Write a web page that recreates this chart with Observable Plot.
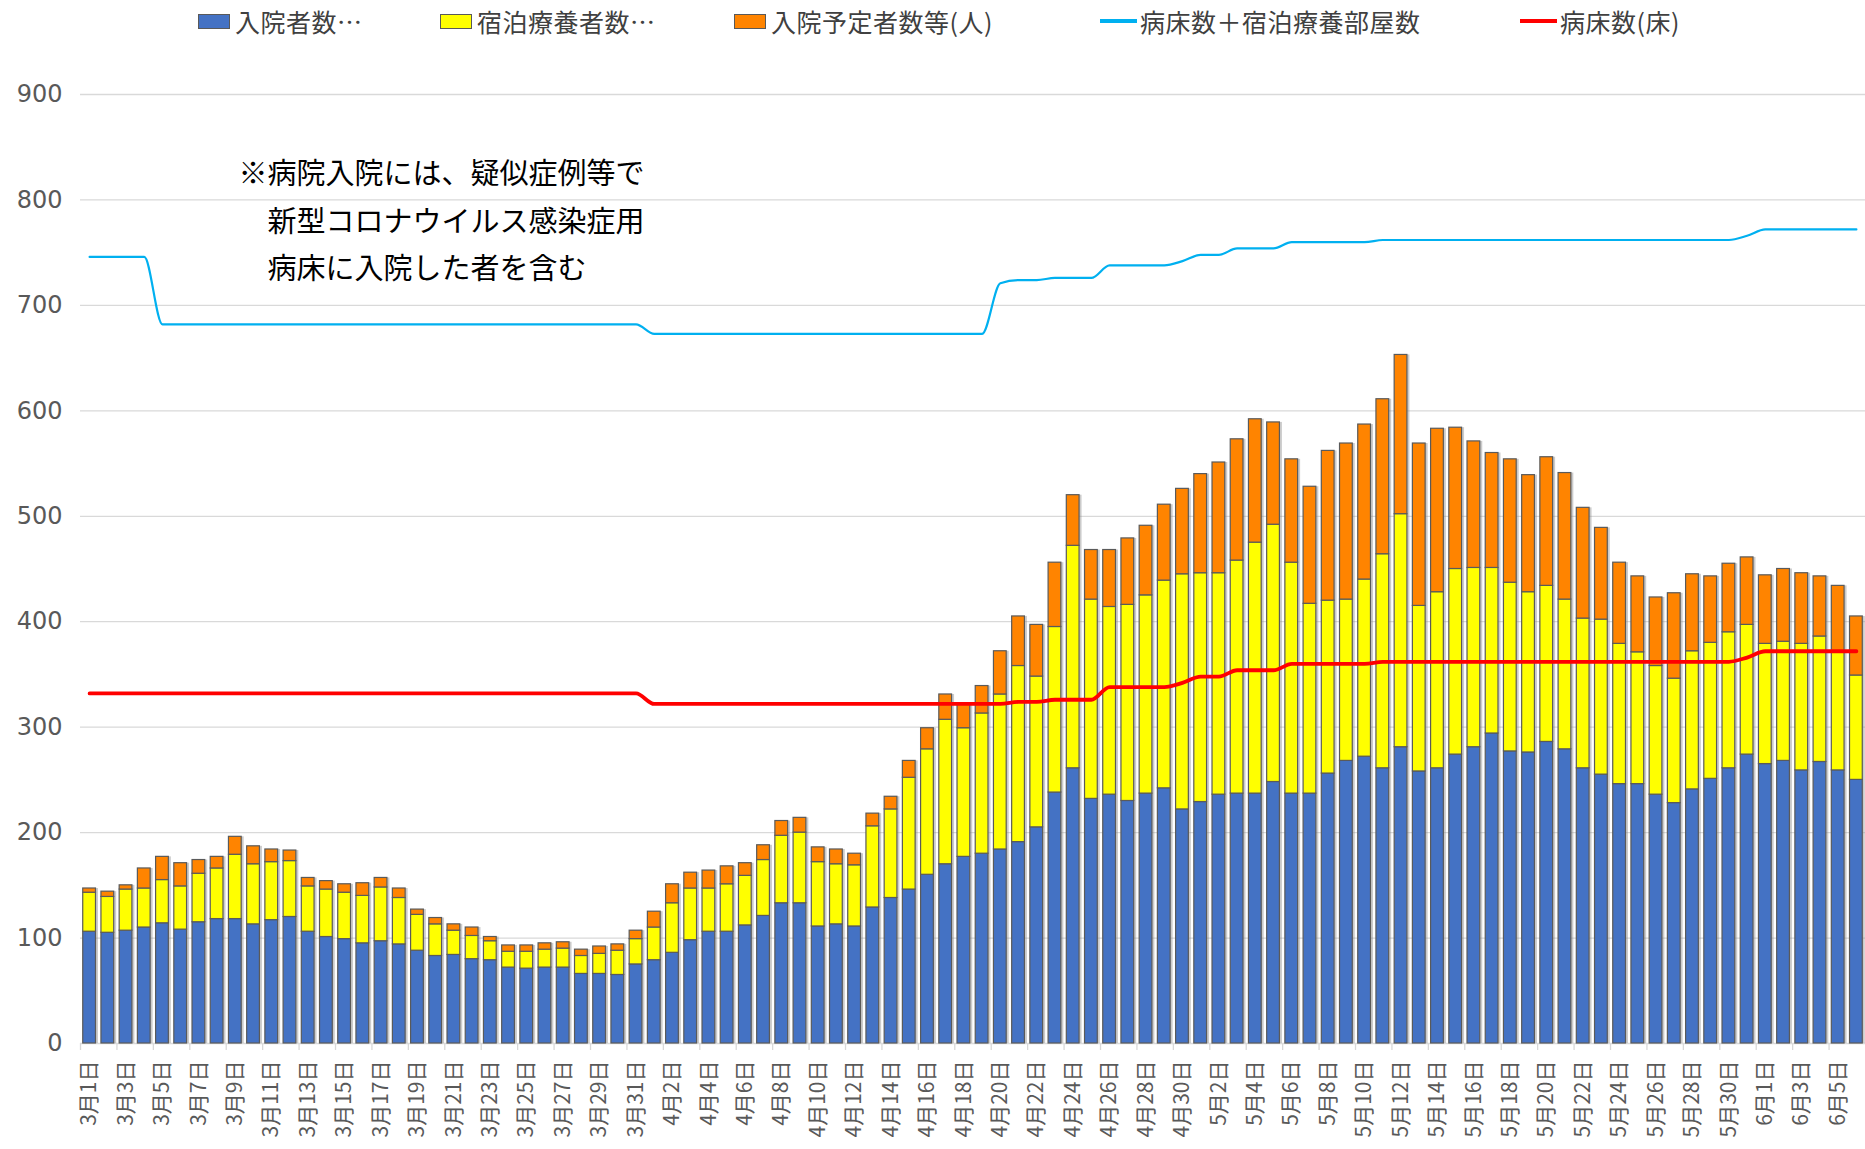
<!DOCTYPE html>
<html><head><meta charset="utf-8">
<script src="https://cdn.jsdelivr.net/npm/d3@7"></script>
<script src="https://cdn.jsdelivr.net/npm/@observablehq/plot@0.6"></script>
<style>
body{margin:0;background:#fff;font-family:'Noto Sans CJK JP',sans-serif;overflow:hidden;}
#legend{position:relative;height:45px;width:1865px;font-size:25px;color:#404040;letter-spacing:0.5px;}
.item{position:absolute;top:0;height:42px;display:flex;align-items:center;white-space:nowrap;}
.sw{display:inline-block;width:32px;height:15px;border:1px solid #595959;box-sizing:border-box;margin-right:5px;}
.ln{display:inline-block;width:37px;height:4px;margin-right:3px;}
</style></head><body>
<div id="legend"></div>
<div id="chart"></div>
<script>
const dates = ["3月1日","3月2日","3月3日","3月4日","3月5日","3月6日","3月7日","3月8日","3月9日","3月10日",
"3月11日","3月12日","3月13日","3月14日","3月15日","3月16日","3月17日","3月18日","3月19日","3月20日",
"3月21日","3月22日","3月23日","3月24日","3月25日","3月26日","3月27日","3月28日","3月29日","3月30日","3月31日",
"4月1日","4月2日","4月3日","4月4日","4月5日","4月6日","4月7日","4月8日","4月9日","4月10日",
"4月11日","4月12日","4月13日","4月14日","4月15日","4月16日","4月17日","4月18日","4月19日","4月20日",
"4月21日","4月22日","4月23日","4月24日","4月25日","4月26日","4月27日","4月28日","4月29日","4月30日",
"5月1日","5月2日","5月3日","5月4日","5月5日","5月6日","5月7日","5月8日","5月9日","5月10日",
"5月11日","5月12日","5月13日","5月14日","5月15日","5月16日","5月17日","5月18日","5月19日","5月20日",
"5月21日","5月22日","5月23日","5月24日","5月25日","5月26日","5月27日","5月28日","5月29日","5月30日","5月31日",
"6月1日","6月2日","6月3日","6月4日","6月5日","6月6日"];

// 入院者数
const inpatients = [106,105,107,110,114,108,115,118,118,113,
117,120,106,101,99,95,97,94,88,83,
84,80,79,72,71,72,72,66,66,65,75,
79,86,98,106,106,112,121,133,133,111,
113,111,129,138,146,160,170,177,180,184,
191,205,238,261,232,236,230,237,242,222,
229,236,237,237,248,237,237,256,268,272,
261,281,258,261,274,281,294,277,276,286,
279,261,255,246,246,236,228,241,251,261,274,
265,268,259,267,259,250];

// 宿泊療養者数
const hotel = [37,34,39,37,41,41,46,48,61,57,
55,53,43,45,44,45,51,44,34,30,
23,22,18,15,16,17,18,17,19,23,24,
31,47,49,41,45,47,53,64,67,61,
57,58,77,84,106,119,137,122,133,147,
167,143,157,211,189,178,186,188,197,223,
217,210,221,238,244,219,180,164,153,168,
203,221,157,167,176,170,157,160,152,148,
142,142,147,133,125,122,118,131,129,129,123,
114,113,120,119,112,99];

// 入院予定者数等(人)
const pending = [4,5,4,19,22,22,13,11,17,17,
12,10,8,8,8,12,9,9,5,6,
6,8,4,6,6,6,6,6,7,6,8,
15,18,15,17,17,12,14,14,14,14,
14,11,12,12,16,20,24,23,26,41,
47,49,61,48,47,54,63,66,72,81,
94,105,115,117,97,98,111,142,148,147,
147,151,154,155,134,120,109,117,111,122,
120,105,87,77,72,65,81,73,63,65,64,
65,69,67,57,63,56];

// 病床数＋宿泊療養部屋数
const capacityTotal = [746,746,746,746,682,682,682,682,682,682,
682,682,682,682,682,682,682,682,682,682,
682,682,682,682,682,682,682,682,682,682,682,
673,673,673,673,673,673,673,673,673,673,
673,673,673,673,673,673,673,673,673,721,
724,724,726,726,726,738,738,738,738,742,
748,748,754,754,754,760,760,760,760,760,
762,762,762,762,762,762,762,762,762,762,
762,762,762,762,762,762,762,762,762,762,766,
772,772,772,772,772,772];

// 病床数(床)
const beds = [332,332,332,332,332,332,332,332,332,332,
332,332,332,332,332,332,332,332,332,332,
332,332,332,332,332,332,332,332,332,332,332,
322,322,322,322,322,322,322,322,322,322,
322,322,322,322,322,322,322,322,322,322,
324,324,326,326,326,338,338,338,338,342,
348,348,354,354,354,360,360,360,360,360,
362,362,362,362,362,362,362,362,362,362,
362,362,362,362,362,362,362,362,362,362,366,
372,372,372,372,372,372];

const seriesNames = ["入院者数", "宿泊療養者数", "入院予定者数等(人)"];
const seriesColors = ["#4472C4", "#FFFF00", "#FF8400"];
const lineNames = ["病床数＋宿泊療養部屋数", "病床数(床)"];
const lineColors = ["#00B0F0", "#FF0000"];
const legendLabels = ["入院者数…", "宿泊療養者数…", "入院予定者数等(人)", "病床数＋宿泊療養部屋数", "病床数(床)"];
const yTicks = [0,100,200,300,400,500,600,700,800,900];
const labelDates = dates.filter((d, i) => i % 2 === 0);
const noteText = "※病院入院には、疑似症例等で\n\u3000新型コロナウイルス感染症用\n\u3000病床に入院した者を含む";

// legend
const legendItems = [
  {label: legendLabels[0], color: seriesColors[0], kind: "box", left: 198},
  {label: legendLabels[1], color: seriesColors[1], kind: "box", left: 440},
  {label: legendLabels[2], color: seriesColors[2], kind: "box", left: 734},
  {label: legendLabels[3], color: lineColors[0], kind: "line", left: 1100},
  {label: legendLabels[4], color: lineColors[1], kind: "line", left: 1520}
];
const legend = document.getElementById("legend");
for (const it of legendItems) {
  const div = document.createElement("div");
  div.className = "item";
  div.style.left = it.left + "px";
  const sw = document.createElement("span");
  sw.className = it.kind === "box" ? "sw" : "ln";
  sw.style.background = it.color;
  div.appendChild(sw);
  const t = document.createElement("span");
  t.textContent = it.label;
  div.appendChild(t);
  legend.appendChild(div);
}

const rows = [];
dates.forEach((d, i) => {
  rows.push({date: d, series: seriesNames[0], value: inpatients[i]});
  rows.push({date: d, series: seriesNames[1], value: hotel[i]});
  rows.push({date: d, series: seriesNames[2], value: pending[i]});
});
const lineRows = dates.map((d, i) => ({date: d, total: capacityTotal[i], beds: beds[i]}));
const totals = dates.map((d, i) => ({date: d, total: inpatients[i] + hotel[i] + pending[i]}));

const chart = Plot.plot({
  width: 1865, height: 1104,
  marginLeft: 80, marginRight: 0, marginTop: 49, marginBottom: 106,
  style: {fontFamily: "'Noto Sans CJK JP', sans-serif", background: "#fff", overflow: "visible"},
  x: {domain: dates, paddingInner: 0.3, paddingOuter: 0.15, round: false, label: null},
  y: {domain: [0, 900], label: null},
  color: {domain: seriesNames, range: seriesColors},
  marks: [
    Plot.gridY(yTicks.filter(v => v > 0), {stroke: "#d9d9d9", strokeOpacity: 1, strokeWidth: 1.3}),
    Plot.ruleY([0], {stroke: "#d9d9d9", strokeWidth: 1.5}),
    Plot.ruleX(labelDates, {x: d => d, y1: 0, y2: 0, insetBottom: -7, dx: -9.1, stroke: "#d9d9d9", strokeWidth: 1.3}),
    Plot.barY(totals, {x: "date", y: "total", fill: "#8c8c8c", fillOpacity: 0.45, dx: 2.5}),
    Plot.barY(rows, {x: "date", y: "value", fill: "series", stroke: "#5a5a5a", strokeWidth: 1.2}),
    Plot.line(lineRows, {x: "date", y: "total", stroke: lineColors[0], strokeWidth: 2.2, curve: "monotone-x"}),
    Plot.line(lineRows, {x: "date", y: "beds", stroke: lineColors[1], strokeWidth: 3.8, curve: "monotone-x"}),
    Plot.text([noteText], {frameAnchor: "top-left", text: d => d, dx: 158, dy: 56, lineAnchor: "top", textAnchor: "start", fontSize: 29, lineHeight: 1.64, fill: "#000"}),
    Plot.axisY({ticks: yTicks, tickSize: 0, tickPadding: 18, fontSize: 24, fill: "#595959", fontFamily: "DejaVu Sans", label: null}),
    Plot.axisX({ticks: labelDates, tickRotate: -90, tickSize: 0, tickPadding: 17, fontSize: 21, fill: "#595959", label: null})
  ]
});
document.getElementById("chart").appendChild(chart);
</script>
</body></html>
